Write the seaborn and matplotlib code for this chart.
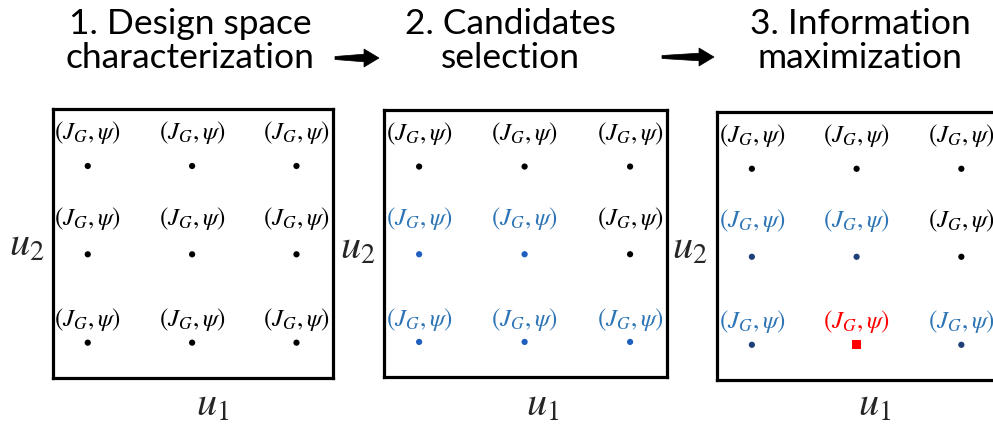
import pandas as pd
import seaborn as sns
import matplotlib.pyplot as plt
from matplotlib.patches import Polygon

sns.set_style("white")
plt.rcParams['font.family'] = ['Lato', 'DejaVu Sans']
plt.rcParams['mathtext.fontset'] = 'stix'

# --- data: 3x3 design grid, status of each point per step ---
u1 = [1, 2, 3, 1, 2, 3, 1, 2, 3]
u2 = [3, 3, 3, 2, 2, 2, 1, 1, 1]
status_step1 = ['all'] * 9
status_step2 = ['all', 'all', 'all',
                'cand', 'cand', 'all',
                'cand', 'cand', 'cand']
status_step3 = ['all', 'all', 'all',
                'cand', 'cand', 'all',
                'cand', 'best', 'cand']
titles = ['1. Design space\ncharacterization',
          '2. Candidates\nselection',
          '3. Information\nmaximization']
point_label = r'$(J_G,\psi)$'

W, H = 993, 425
fig = plt.figure(figsize=(W / 100, H / 100), dpi=100)


def px_axes(left, right, top, bottom):
    return fig.add_axes([left / W, 1 - bottom / H, (right - left) / W, (bottom - top) / H])


text_colors = {'all': 'black', 'cand': '#2E75B6', 'best': '#FF0000'}
dot_colors_2 = {'all': 'black', 'cand': '#1F5FC0', 'best': '#FF0000'}
dot_colors_3 = {'all': 'black', 'cand': '#1F3F78', 'best': '#FF0000'}
markers = {'all': 'o', 'cand': 'o', 'best': 's'}
sizes = {'all': 20, 'cand': 20, 'best': 45}
row_offset = {3: 24, 2: 26, 1: 16.5}   # label height above each row, in points

panels = [
    (status_step1, dot_colors_2, (53, 333, 109, 378), (190, 68), (27, 245), (213, 405)),
    (status_step2, dot_colors_2, (384, 667, 110, 377), (510, 68), (358, 248), (543, 405)),
    (status_step3, dot_colors_3, (717, 998, 112, 380), (860, 68), (690, 248), (875, 405)),
]

for (status, dcol, box, tpos, u2pos, u1pos), title in zip(panels, titles):
    ax = px_axes(*box)
    df = pd.DataFrame({'u1': u1, 'u2': u2, 'status': status})
    sns.scatterplot(data=df, x='u1', y='u2', hue='status', style='status',
                    size='status', palette=dcol, markers=markers, sizes=sizes,
                    linewidth=0, legend=False, ax=ax)
    for _, r in df.iterrows():
        ax.annotate(point_label, (r['u1'], r['u2']), xytext=(0, row_offset[r['u2']]),
                    textcoords='offset points', ha='center', va='center',
                    fontsize=18, color=text_colors[r['status']])
    ax.set_xlim(0.667, 3.35)
    ax.set_ylim(0.6, 3.645)
    ax.set_xticks([])
    ax.set_yticks([])
    ax.set_xlabel('')
    ax.set_ylabel('')
    for sp in ax.spines.values():
        sp.set_linewidth(2.3)
        sp.set_color('black')
    fig.text(tpos[0] / W, 1 - tpos[1] / H, title, ha='center', va='baseline',
             fontsize=25.5, linespacing=1.08, color='black')
    fig.text(u2pos[0] / W, 1 - u2pos[1] / H, r'$u_2$', ha='center', va='center', fontsize=29)
    fig.text(u1pos[0] / W, 1 - u1pos[1] / H, r'$u_1$', ha='center', va='center', fontsize=29)

# arrows between the steps
for x0, x1, yc in [(335, 379, 58), (662, 714, 57)]:
    hx = x1 - 15
    pts = [(x0, yc - 1.5), (hx, yc - 3.8), (hx, yc - 9), (x1, yc),
           (hx, yc + 9), (hx, yc + 3.8), (x0, yc + 1.5)]
    pts = [(x / W, 1 - y / H) for x, y in pts]
    fig.patches.append(Polygon(pts, closed=True, transform=fig.transFigure,
                               facecolor='black', edgecolor='black', lw=0.5))

fig.savefig('out.png', dpi=100)
